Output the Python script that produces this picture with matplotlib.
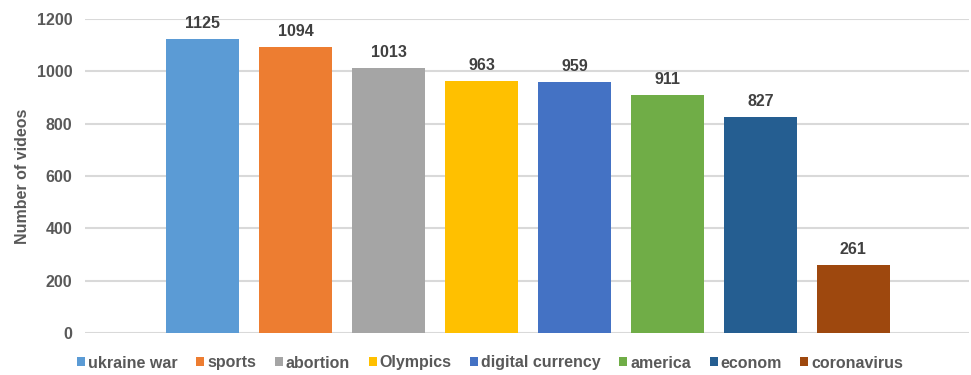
import matplotlib
matplotlib.use("Agg")
import matplotlib.pyplot as plt

topics = ['ukraine war', 'sports', 'abortion', 'Olympics', 'digital currency',
          'america', 'econom', 'coronavirus']
counts = [1125, 1094, 1013, 963, 959, 911, 827, 261]
colors = ['#5B9BD5', '#ED7D31', '#A5A5A5', '#FFC000', '#4472C4',
          '#70AD47', '#255E91', '#9E480E']
yticks = [0, 200, 400, 600, 800, 1000, 1200]

plt.rcParams['font.family'] = ['Liberation Sans', 'DejaVu Sans']
txt = '#595959'

fig = plt.figure(figsize=(9.71, 3.75), dpi=100)
ax = fig.add_axes([0.0875, 0.112, 0.91, 0.837])

X = list(range(len(topics)))
bars = ax.bar(X, counts, width=0.786, color=colors, label=topics, zorder=3)
# value labels above bars
for x, v in zip(X, counts):
    ax.text(x, v + 30, str(v), ha='center', va='bottom', fontsize=11.5,
            fontweight='bold', color='#404040')

ax.set_xlim(-1.265, 8.24)
ax.set_ylim(0, 1200)
ax.set_yticks(yticks)
ax.set_xticks([])
ax.yaxis.grid(True, color='#D9D9D9', linewidth=1.5, zorder=0)
for s in ax.spines.values():
    s.set_visible(False)
ax.tick_params(axis='y', length=0, pad=9, labelsize=11.5, labelcolor=txt)
for t in ax.get_yticklabels():
    t.set_fontweight('bold')
ax.set_ylabel('Number of videos', fontsize=11.5, fontweight='bold', color=txt)
ax.yaxis.set_label_coords(-0.062, 0.5)

leg = fig.legend(handles=bars, labels=topics, loc='center', ncol=8,
                 bbox_to_anchor=(0.505, 0.032), frameon=False,
                 handlelength=0.5, handleheight=0.5, handletextpad=0.2,
                 columnspacing=1.15,
                 prop={'size': 11.5, 'weight': 'bold'})
for t in leg.get_texts():
    t.set_color(txt)

fig.savefig('out.png', dpi=100)
